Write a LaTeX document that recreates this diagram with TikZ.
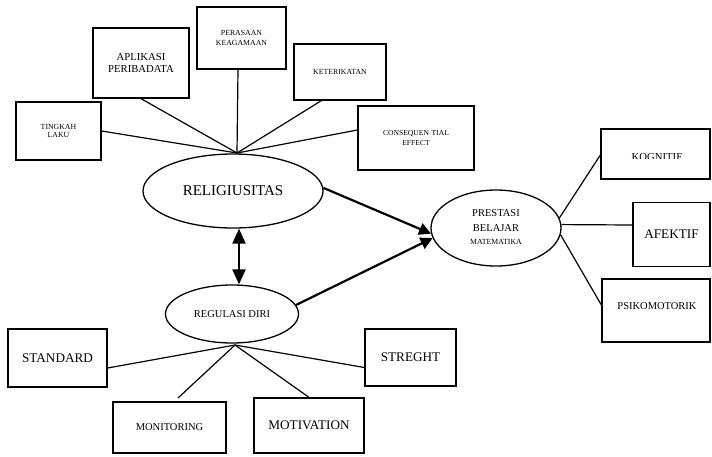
\documentclass[tikz,border=0pt]{standalone}
\usepackage{fontspec}
\setmainfont{Liberation Serif}
\usetikzlibrary{shapes.geometric,arrows.meta,calc}
\begin{document}
\begin{tikzpicture}[x=1pt,y=-1pt,
  box/.style={draw,line width=1.3pt,inner sep=0pt,align=center},
  oval/.style={draw,ellipse,line width=1.3pt,inner sep=0pt,align=center},
  link/.style={line width=1.2pt},
  bigarrow/.style={line width=2.2pt,-{Triangle[length=12pt,width=12pt]}},
  dblarrow/.style={line width=2.2pt,{Triangle[length=15pt,width=13pt]}-{Triangle[length=15pt,width=13pt]}},
  fs/.style={font=\fontsize{#1}{#1}\selectfont}
]
\useasboundingbox (0,0) rectangle (712,456);

% top boxes
\node[box,minimum width=85pt,minimum height=58pt,fs=7.8,text width=80pt] (tingkah) at (58.5,131) {TINGKAH\\[1pt]LAKU};
\node[box,minimum width=96pt,minimum height=70pt,fs=10.7,text width=90pt] (aplikasi) at (141,63) {APLIKASI\\[2pt]PERIBADATA};
\node[box,minimum width=89pt,minimum height=62pt,fs=7.8,text width=85pt] (perasaan) at (241.5,38) {PERASAAN\\[2pt]KEAGAMAAN\\[14pt]};
\node[box,minimum width=92pt,minimum height=56pt,fs=7.8] (keter) at (340,72) {KETERIKATAN};
\node[box,minimum width=116pt,minimum height=64pt,fs=7.6,text width=110pt] (conseq) at (416,138) {CONSEQUEN TIAL\\[2pt]EFFECT};

% ellipses
\node[oval,minimum width=180pt,minimum height=74pt,fs=15] (religi) at (233,191) {RELIGIUSITAS};
\node[oval,minimum width=130pt,minimum height=76pt] (prestasi) at (496,228) {};
\node[fs=10.5,align=center] (prestasiA) at (496,213.5) {PRESTASI};
\node[fs=10.5,align=center] (prestasiB) at (496,228) {BELAJAR};
\node[fs=7.8,align=center] (prestasiC) at (496,241.5) {MATEMATIKA};
\node[oval,minimum width=133pt,minimum height=58pt,fs=10.5] (regulasi) at (232,314) {REGULASI DIRI};

% right boxes
\node[box,minimum width=109pt,minimum height=50pt] (kognitif) at (655.5,154) {};
\begin{scope}
  \clip (602,130) rectangle (710,158.5);
  \node[fs=10.7] (kognitifT) at (657,157) {KOGNITIF};
\end{scope}
\node[box,minimum width=77pt,minimum height=64pt,fs=13.2] (afektif) at (671.5,234.5) {AFEKTIF};
\node[box,minimum width=108pt,minimum height=63pt] (psiko) at (656,310.5) {};
\node[fs=10.5] (psikoT) at (657,306) {PSIKOMOTORIK};

% bottom boxes
\node[box,minimum width=99pt,minimum height=58pt,fs=13.2] (standard) at (57.5,358) {STANDARD};
\node[box,minimum width=113pt,minimum height=51pt,fs=10.5] (monitoring) at (169.5,427.5) {MONITORING};
\node[box,minimum width=110pt,minimum height=55pt,fs=13.2] (motivation) at (309,425.5) {MOTIVATION};
\node[box,minimum width=91pt,minimum height=57pt,fs=13.2] (streght) at (410.5,357.5) {STREGHT};

% hubs
\coordinate (hubA) at (237,153);
\coordinate (hubB) at (235,345);
\coordinate (monEnd) at (178,398);

\draw[link] (hubA) -- (tingkah.east);
\draw[link] (hubA) -- (aplikasi.south);
\draw[link] (hubA) -- ([xshift=-3.5pt]perasaan.south);
\draw[link] (hubA) -- ([xshift=28pt]keter.south west);
\draw[link] (hubA) -- ([yshift=8pt]conseq.west);

\draw[link] (hubB) -- ([yshift=-10pt]standard.east);
\draw[link] (hubB) -- (monEnd);
\draw[link] (hubB) -- (motivation.north);
\draw[link] (hubB) -- ([yshift=-10pt]streght.west);

\draw[link] (prestasi.9) -- ([yshift=-1pt]kognitif.west);
\draw[link] (prestasi.3) -- ([yshift=9.5pt]afektif.west);
\draw[link] (prestasi.-6) -- ([yshift=5.5pt]psiko.west);

\draw[bigarrow] (religi.2) -- (prestasi.185);
\draw[bigarrow] (regulasi.8) -- (prestasi.189);
\draw[dblarrow] ([xshift=6pt]religi.south) -- ([xshift=7pt]regulasi.north);
\end{tikzpicture}
\end{document}
